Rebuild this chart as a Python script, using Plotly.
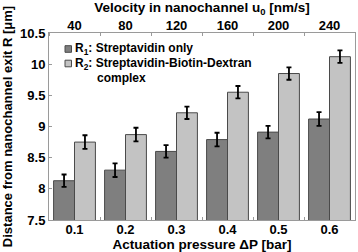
import plotly.graph_objects as go

pressure = ["0.1", "0.2", "0.3", "0.4", "0.5", "0.6"]
velocity = [40, 80, 120, 160, 200, 240]
r1_values = [8.13, 8.30, 8.60, 8.79, 8.91, 9.12]
r1_errors = [0.10, 0.11, 0.10, 0.11, 0.10, 0.11]
r2_values = [8.75, 8.87, 9.22, 9.55, 9.85, 10.12]
r2_errors = [0.11, 0.11, 0.10, 0.10, 0.10, 0.10]
y_ticks = [7.5, 8, 8.5, 9, 9.5, 10, 10.5]
y_tick_text = ["7.5", "8", "8.5", "9", "9.5", "10", "10.5"]
legend_prefix = ["R<sub>1</sub>: ", "R<sub>2</sub>: "]
legend_lines = [["Streptavidin only"], ["Streptavidin-Biotin-Dextran", "complex"]]

FONT = "Liberation Sans, Arial, sans-serif"
DARK = "#7f7f7f"
LIGHT = "#c3c3c3"
EDGE = "#4a4a4a"
AXIS = "#9a9a9a"

fig = go.Figure()
fig.add_trace(go.Bar(
    x=pressure, y=r1_values, name="R1: Streptavidin only", showlegend=False,
    marker=dict(color=DARK, line=dict(color=EDGE, width=1)),
    error_y=dict(type="data", array=r1_errors, color="black", thickness=1.8, width=2.5),
))
fig.add_trace(go.Bar(
    x=pressure, y=r2_values, name="R2: Streptavidin-Biotin-Dextran complex", showlegend=False,
    marker=dict(color=LIGHT, line=dict(color=EDGE, width=1)),
    error_y=dict(type="data", array=r2_errors, color="black", thickness=1.8, width=2.5),
))
fig.add_trace(go.Scatter(
    x=velocity, y=r1_values, xaxis="x2", mode="markers",
    marker=dict(opacity=0), showlegend=False, hoverinfo="skip",
))

# legend drawn inside the plot area (small swatches right next to the text)
W, H = 358, 252
L, R, T, B = 49, 3, 33, 32
pw, ph = W - L - R, H - T - B
def px(x):
    return (x - L) / pw
def py(y):
    return 1 - (y - T) / ph

rows_y = [49, 63.5]
line_gap = 14.5
colors = [DARK, LIGHT]
text_x = 72.5
for yc, col, pre, lines in zip(rows_y, colors, legend_prefix, legend_lines):
    fig.add_shape(type="rect", xref="paper", yref="paper",
                  x0=px(65), x1=px(71.5), y0=py(yc + 3.3), y1=py(yc - 3.3),
                  fillcolor=col, line=dict(color=EDGE, width=1))
    fig.add_annotation(xref="paper", yref="paper", x=px(text_x), y=py(yc),
                       xanchor="left", yanchor="middle", showarrow=False,
                       text=pre + lines[0], font=dict(size=12, weight="bold", color="black"))
    for k, extra in enumerate(lines[1:], start=1):
        fig.add_annotation(xref="paper", yref="paper", x=px(95), y=py(yc + k * line_gap),
                           xanchor="left", yanchor="middle", showarrow=False,
                           text=extra, font=dict(size=12, weight="bold", color="black"))

fig.update_layout(
    width=W, height=H,
    margin=dict(l=L, r=R, t=T, b=B),
    paper_bgcolor="white", plot_bgcolor="white",
    barmode="group", bargap=0.18, bargroupgap=0,
    font=dict(family=FONT, size=12, color="black", weight="bold"),
    showlegend=False,
    xaxis=dict(
        type="category", tickson="boundaries", ticks="inside", ticklen=3,
        tickcolor=AXIS, showline=True, linecolor=AXIS, linewidth=1, mirror=False,
        showgrid=False, tickfont=dict(size=13, weight="bold"), ticklabelstandoff=-3,
        title=dict(text="Actuation pressure \u0394P [bar]", font=dict(size=13.5, weight="bold"), standoff=3),
    ),
    xaxis2=dict(
        overlaying="x", side="top", range=[20, 260],
        tickvals=velocity, ticktext=[str(v) for v in velocity], ticks="",
        minor=dict(ticks="inside", tick0=20, dtick=40, ticklen=3, tickcolor=AXIS),
        showline=True, linecolor=AXIS, linewidth=1, showgrid=False,
        tickfont=dict(size=13, weight="bold"), ticklabelstandoff=-3,
        title=dict(text="Velocity in nanochannel u<sub>0</sub> [nm/s]", font=dict(size=13.5, weight="bold"), standoff=2),
    ),
    yaxis=dict(
        range=[7.5, 10.5], tickvals=y_ticks, ticktext=y_tick_text,
        ticks="inside", ticklen=3, tickcolor=AXIS,
        showline=True, linecolor=AXIS, linewidth=1, mirror=True,
        showgrid=False, zeroline=False, tickfont=dict(size=13, weight="bold"),
        title=dict(text="Distance from nanochannel exit R [\u03bcm]", font=dict(size=13, weight="bold"), standoff=6),
    ),
)

fig.write_html("out.html")
